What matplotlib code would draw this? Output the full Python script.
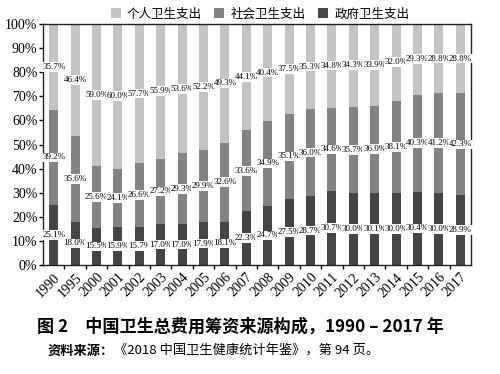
import matplotlib.pyplot as plt
import numpy as np

# data (percent)
years = ['1990', '1995', '2000', '2001', '2002', '2003', '2004', '2005', '2006', '2007',
         '2008', '2009', '2010', '2011', '2012', '2013', '2014', '2015', '2016', '2017']
gov = [25.1, 18.0, 15.5, 15.9, 15.7, 17.0, 17.0, 17.9, 18.1, 22.3,
       24.7, 27.5, 28.7, 30.7, 30.0, 30.1, 30.0, 30.4, 30.0, 28.9]
social = [39.2, 35.6, 25.6, 24.1, 26.6, 27.2, 29.3, 29.9, 32.6, 33.6,
          34.9, 35.1, 36.0, 34.6, 35.7, 36.0, 38.1, 40.3, 41.2, 42.3]
personal = [35.7, 46.4, 59.0, 60.0, 57.7, 55.9, 53.6, 52.2, 49.3, 44.1,
            40.4, 37.5, 35.3, 34.8, 34.3, 33.9, 32.0, 29.3, 28.8, 28.8]

cjk = ['Noto Sans CJK SC', 'DejaVu Sans']
serif = ['Liberation Serif', 'DejaVu Serif']

fig = plt.figure(figsize=(5, 3.74), dpi=100)
ax = fig.add_axes([0.086, 0.291, 0.856, 0.645])

x = np.arange(len(years))
w = 0.42
gov = np.array(gov)
social = np.array(social)
personal = np.array(personal)

b1 = ax.bar(x, gov, w, color='#454545', label='政府卫生支出')
b2 = ax.bar(x, social, w, bottom=gov, color='#838383', label='社会卫生支出')
b3 = ax.bar(x, personal, w, bottom=gov + social, color='#c4c4c4', label='个人卫生支出')

# value labels at segment centres, white box over the bar
box = dict(facecolor='white', edgecolor='none', pad=0.6)
for i in range(len(years)):
    for v, base in [(gov[i], 0), (social[i], gov[i]), (personal[i], gov[i] + social[i])]:
        ax.text(x[i], base + v / 2, f'{v:.1f}%', ha='center', va='center',
                fontsize=6.5, family=serif, bbox=box)

ax.set_xlim(-0.5, len(years) - 0.5)
ax.set_ylim(0, 100)
ax.set_yticks(np.arange(0, 101, 10))
ax.set_yticklabels([f'{v}%' for v in range(0, 101, 10)], family=serif, fontsize=10)
ax.set_xticks(x)
ax.set_xticklabels(years, rotation=45, ha='right', rotation_mode='anchor',
                   family=serif, fontsize=10)
ax.tick_params(axis='x', which='major', length=0, pad=4)
ax.set_xticks(x[:-1] + 0.5, minor=True)
ax.tick_params(axis='x', which='minor', length=3, width=1)
ax.tick_params(axis='y', length=3, width=1, pad=1)
for s in ax.spines.values():
    s.set_linewidth(1.0)
    s.set_color('#222222')

fig.legend(handles=[b3, b2, b1], labels=['个人卫生支出', '社会卫生支出', '政府卫生支出'],
           loc='upper center', bbox_to_anchor=(0.52, 1.01), ncol=3, frameon=False,
           prop={'family': cjk, 'size': 9}, handlelength=0.8, handleheight=0.8,
           columnspacing=1.0, handletextpad=0.5)

fig.text(0.074, 0.126, '图 2　中国卫生总费用筹资来源构成，1990 – 2017 年',
         family=cjk, fontsize=12.3, fontweight='bold', va='center')
t = fig.text(0.096, 0.062, '资料来源：', family=cjk, fontsize=9.5,
             fontweight='bold', va='center')
ax.annotate('《2018 中国卫生健康统计年鉴》，第 94 页。', xy=(1, 0), xycoords=t,
            va='bottom', ha='left', family=cjk, fontsize=9.5)

fig.savefig('out.png', dpi=100)
